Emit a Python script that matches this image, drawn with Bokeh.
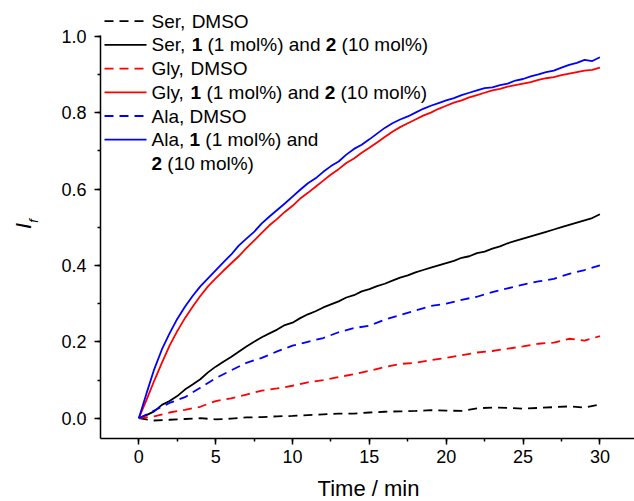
import numpy as np
from bokeh.plotting import figure
from bokeh.models import (ColumnDataSource, SingleIntervalTicker, Label, Range1d,
                          PrintfTickFormatter)
from bokeh.core.properties import value
from bokeh.embed import file_html
from bokeh.resources import INLINE

# ---------------- data ----------------
t_solid = [i * 0.5 for i in range(61)]
ala_cat = [0.000, 0.065, 0.128, 0.180, 0.222, 0.260, 0.292, 0.320, 0.345, 0.366,
           0.387, 0.408, 0.428, 0.452, 0.470, 0.488, 0.510, 0.528, 0.545, 0.562,
           0.580, 0.598, 0.615, 0.628, 0.645, 0.660, 0.672, 0.690, 0.705, 0.716,
           0.730, 0.745, 0.760, 0.772, 0.782, 0.790, 0.800, 0.810, 0.818, 0.825,
           0.832, 0.838, 0.846, 0.852, 0.858, 0.864, 0.866, 0.872, 0.876, 0.884,
           0.888, 0.895, 0.900, 0.906, 0.910, 0.918, 0.925, 0.930, 0.938, 0.935,
           0.945]
gly_cat = [0.000, 0.048, 0.098, 0.145, 0.190, 0.228, 0.262, 0.292, 0.320, 0.345,
           0.366, 0.386, 0.405, 0.424, 0.445, 0.465, 0.485, 0.505, 0.522, 0.540,
           0.556, 0.575, 0.590, 0.606, 0.622, 0.638, 0.652, 0.668, 0.680, 0.695,
           0.708, 0.722, 0.736, 0.750, 0.762, 0.772, 0.782, 0.792, 0.800, 0.810,
           0.818, 0.826, 0.832, 0.840, 0.846, 0.852, 0.858, 0.862, 0.868, 0.872,
           0.876, 0.880, 0.886, 0.890, 0.893, 0.898, 0.902, 0.906, 0.910, 0.912,
           0.918]
ser_cat = [0.000, 0.008, 0.018, 0.035, 0.045, 0.058, 0.075, 0.088, 0.102, 0.120,
           0.135, 0.148, 0.160, 0.174, 0.188, 0.200, 0.212, 0.222, 0.232, 0.244,
           0.250, 0.262, 0.272, 0.280, 0.290, 0.298, 0.306, 0.316, 0.322, 0.332,
           0.338, 0.346, 0.352, 0.360, 0.368, 0.374, 0.382, 0.388, 0.394, 0.400,
           0.406, 0.412, 0.420, 0.424, 0.432, 0.436, 0.444, 0.450, 0.458, 0.464,
           0.470, 0.476, 0.482, 0.488, 0.494, 0.500, 0.506, 0.512, 0.518, 0.524,
           0.534]

t_dash = [float(i) for i in range(31)]
ala_dmso = [0.000, 0.020, 0.040, 0.055, 0.080, 0.105, 0.125, 0.145, 0.158, 0.175,
            0.190, 0.200, 0.210, 0.225, 0.236, 0.242, 0.258, 0.270, 0.282, 0.294,
            0.300, 0.310, 0.318, 0.330, 0.340, 0.350, 0.358, 0.365, 0.378, 0.388,
            0.400]
gly_dmso = [0.000, 0.005, 0.015, 0.022, 0.030, 0.045, 0.052, 0.062, 0.072, 0.078,
            0.085, 0.094, 0.100, 0.108, 0.115, 0.124, 0.134, 0.142, 0.145, 0.152,
            0.158, 0.165, 0.172, 0.176, 0.182, 0.188, 0.195, 0.198, 0.208, 0.203,
            0.215]
ser_dmso = [0.000, -0.006, -0.004, -0.002, 0.000, -0.003, -0.001, 0.002, 0.003, 0.005,
            0.006, 0.008, 0.010, 0.012, 0.012, 0.015, 0.017, 0.018, 0.019, 0.021,
            0.020, 0.019, 0.026, 0.028, 0.027, 0.025, 0.027, 0.029, 0.031, 0.028,
            0.036]

# legend rows: (segments [(text, bold)], colour, dashed)
legend_rows = [
    ([("Ser,", False), ("DMSO", False)], "black", True),
    ([("Ser,", False), ("1", True), ("(1 mol%) and", False), ("2", True), ("(10 mol%)", False)], "black", False),
    ([("Gly,", False), ("DMSO", False)], "red", True),
    ([("Gly,", False), ("1", True), ("(1 mol%) and", False), ("2", True), ("(10 mol%)", False)], "red", False),
    ([("Ala,", False), ("DMSO", False)], "blue", True),
    ([("Ala,", False), ("1", True), ("(1 mol%) and", False)], "blue", False),
    ([("2", True), ("(10 mol%)", False)], None, False),
]
x_title = "Time / min"
y_title_main = "I"
y_title_sub = "f"

# ---------------- layout ----------------
# The frame covers the whole canvas; axes are pinned with fixed_location.
W, H = 634, 501
XR = (-9.0, 32.25)
YR = (-0.218, 1.0935)
FONT = "Liberation Sans"


def px_x(px):
    return XR[0] + px * (XR[1] - XR[0]) / W


def px_y(py):
    return YR[1] - py * (YR[1] - YR[0]) / H


X_AXIS_AT = px_x(100)   # left edge of the plotting area
Y_AXIS_AT = px_y(438)   # bottom edge of the plotting area

p = figure(width=W, height=H, x_range=Range1d(*XR), y_range=Range1d(*YR),
           output_backend="svg", toolbar_location=None, min_border=0)
p.xgrid.visible = False
p.ygrid.visible = False
p.outline_line_color = None

for ax in (p.xaxis, p.yaxis):
    ax.axis_line_width = 1.5
    ax.axis_line_color = "black"
    ax.major_tick_line_width = 1.5
    ax.minor_tick_line_width = 1.5
    ax.major_tick_in = 0
    ax.major_tick_out = 6
    ax.minor_tick_in = 0
    ax.minor_tick_out = 3
    ax.major_label_text_font = FONT
    ax.major_label_text_font_size = "18px"
    ax.major_label_text_color = "black"

p.xaxis.ticker = SingleIntervalTicker(interval=5, num_minor_ticks=2)
p.xaxis.fixed_location = Y_AXIS_AT
p.xaxis.bounds = (X_AXIS_AT, XR[1])
p.xaxis.major_label_standoff = 5

p.yaxis.ticker = SingleIntervalTicker(interval=0.2, num_minor_ticks=2)
p.yaxis.formatter = PrintfTickFormatter(format="%.1f")
p.yaxis.fixed_location = X_AXIS_AT
p.yaxis.bounds = (Y_AXIS_AT, 1.001)
p.yaxis.major_label_standoff = 8

# ---------------- data lines ----------------
DASH = "9 6"
p.line(t_dash, ser_dmso, line_color="black", line_width=1.8, line_dash=DASH)
p.line(t_solid, ser_cat, line_color="black", line_width=1.8)
p.line(t_dash, gly_dmso, line_color="red", line_width=1.8, line_dash=DASH)
p.line(t_solid, gly_cat, line_color="red", line_width=1.8)
p.line(t_dash, ala_dmso, line_color="blue", line_width=1.8, line_dash=DASH)
p.line(t_solid, ala_cat, line_color="blue", line_width=1.8)

# ---------------- legend (drawn by hand for mixed bold text) ----------------
ARIAL = {" ": 278, ",": 278, "(": 333, ")": 333, "%": 889, "S": 667, "e": 556,
         "r": 333, "D": 722, "M": 833, "O": 778, "G": 778, "l": 222, "y": 500,
         "A": 667, "a": 556, "m": 833, "o": 556, "n": 556, "d": 556}
LEG_SIZE = 19


def text_w(s):
    return sum(ARIAL.get(c, 556) for c in s) * LEG_SIZE / 1000.0


ROW0, ROW_STEP = 20.7, 23.7
SAMPLE_X0, SAMPLE_X1, TEXT_X = 104, 146, 151
xs, ys, dxs, texts, styles = [], [], [], [], []
for i, (segs, col, dashed) in enumerate(legend_rows):
    yy = px_y(ROW0 + i * ROW_STEP)
    if col is not None:
        p.line([px_x(SAMPLE_X0), px_x(SAMPLE_X1)], [yy, yy], line_color=col,
               line_width=1.8, line_dash=DASH if dashed else "solid")
    off = 0.0
    for s, bold in segs:
        xs.append(px_x(TEXT_X))
        ys.append(yy)
        dxs.append(off)
        texts.append(s)
        styles.append("bold" if bold else "normal")
        off += text_w(s) + text_w(" ")

src = ColumnDataSource(dict(x=xs, y=ys, dx=dxs, text=texts, style=styles))
p.text(x="x", y="y", text="text", x_offset="dx", text_font_style="style",
       source=src, text_font=value(FONT), text_font_size=value(f"{LEG_SIZE}px"),
       text_baseline="middle", text_align="left", text_color="black")

# ---------------- axis titles ----------------
p.add_layout(Label(x=px_x(22.5), y=px_y(225.5), text=y_title_main, angle=np.pi / 2,
                   text_font=FONT, text_font_size="22px", text_font_style="italic",
                   text_align="center", text_baseline="middle", text_color="black"))
p.add_layout(Label(x=px_x(33), y=px_y(220.5), text=y_title_sub, angle=np.pi / 2,
                   text_font=FONT, text_font_size="13px", text_font_style="italic",
                   text_align="center", text_baseline="middle", text_color="black"))
p.add_layout(Label(x=px_x(368), y=px_y(488), text=x_title,
                   text_font=FONT, text_font_size="22px",
                   text_align="center", text_baseline="middle", text_color="black"))

open("out.html", "w").write(file_html(p, INLINE))
